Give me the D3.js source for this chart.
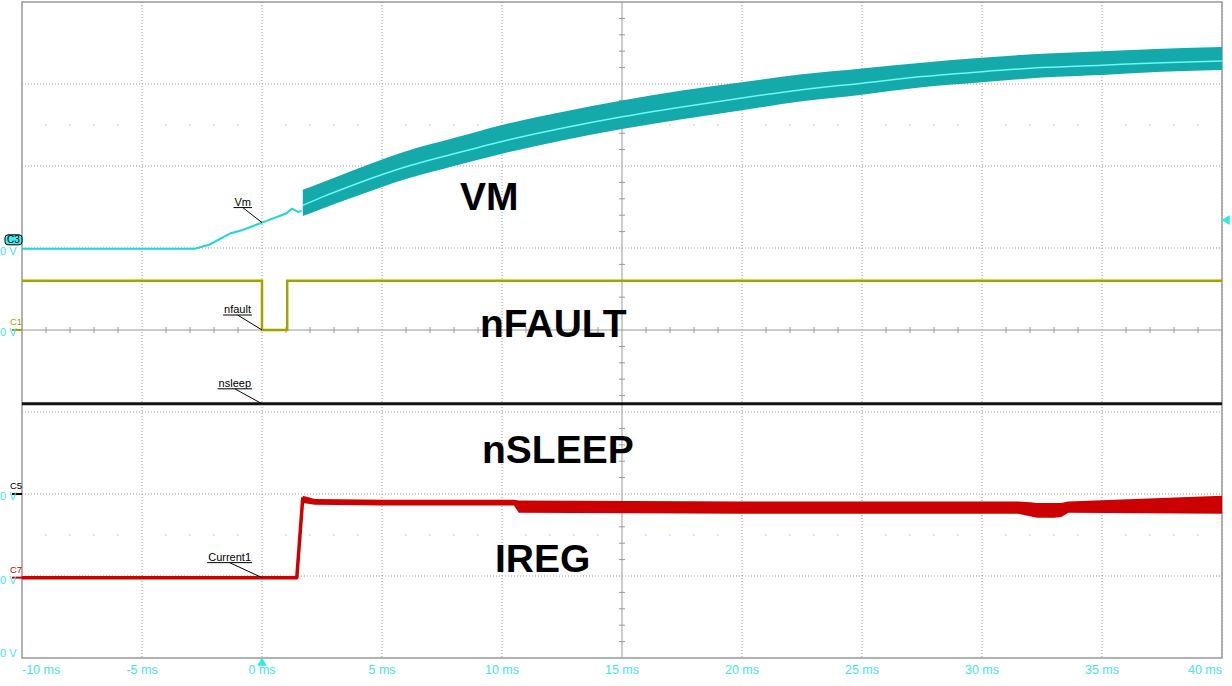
<!DOCTYPE html>
<html>
<head>
<meta charset="utf-8">
<script src="https://cdn.jsdelivr.net/npm/d3@7"></script>
<style>
body { margin: 0; background: #fff; }
text { font-family: "Liberation Sans", Arial, sans-serif; }
</style>
</head>
<body>
<script>
// time axis (ms)
var timeTicks = [-10, -5, 0, 5, 10, 15, 20, 25, 30, 35, 40];

// channel 0 V levels, in screen divisions from centre
var chanNames = ['C3', 'C1', 'C5', 'C7'];
var chanLevels = [0.99, 0, -2.0, -3.02];
var chanColors = ['#1fd6dc', '#a3a300', '#000000', '#cc0000'];

// VM (C3): slow part, values in divisions above its 0 V
var vmTime = [-10, -2.8, -2.2, -1.3, -0.8, 0, 1.0, 1.25, 1.5, 1.65];
var vmVal = [0, 0, 0.05, 0.19, 0.23, 0.32, 0.43, 0.49, 0.45, 0.46];
// VM noisy band after nFAULT released
var vmBandTime = [1.7, 2.5, 4, 6, 8, 10, 12.5, 15, 17.5, 20, 22.5, 25, 27.5, 30, 32.5, 35, 37.5, 40];
var vmMid = [0.53, 0.63, 0.80, 1.00, 1.16, 1.31, 1.47, 1.61, 1.73, 1.84, 1.94, 2.02, 2.10, 2.16, 2.21, 2.24, 2.27, 2.29];
var vmHigh = [0.72, 0.81, 0.98, 1.19, 1.35, 1.51, 1.67, 1.81, 1.93, 2.03, 2.13, 2.20, 2.27, 2.33, 2.38, 2.41, 2.44, 2.46];
var vmLow = [0.40, 0.49, 0.65, 0.85, 1.01, 1.16, 1.32, 1.46, 1.58, 1.69, 1.80, 1.88, 1.97, 2.03, 2.09, 2.12, 2.16, 2.18];

// nFAULT (C1)
var nfaultTime = [-10, 0, 0, 1.05, 1.05, 40];
var nfaultVal = [0.6, 0.6, 0, 0, 0.6, 0.6];

// nSLEEP (C5)
var nsleepTime = [-10, 40];
var nsleepVal = [1.1, 1.1];

// IREG (C7)
var iregTime = [-10, 1.45, 1.7];
var iregVal = [0, 0, 0.98];
var iregBandTime = [1.7, 2.2, 5, 10.5, 10.7, 20, 31.5, 32, 32.3, 33.0, 33.3, 33.6, 40];
var iregHigh = [1.00, 0.96, 0.95, 0.95, 0.94, 0.93, 0.93, 0.92, 0.91, 0.91, 0.91, 0.93, 1.00];
var iregLow = [0.91, 0.89, 0.88, 0.88, 0.79, 0.78, 0.78, 0.75, 0.73, 0.73, 0.74, 0.79, 0.78];

var width = 1232,
	height = 686;

var svg = d3.select('body')
	.append('svg')
	.attr('width', width)
	.attr('height', height);

var x = d3.scaleLinear().domain([-10, 40]).range([22, 1222]);
var y = d3.scaleLinear().domain([-4, 4]).range([658, 2]);

var grid = svg.append('g').attr('class', 'grid');

// dotted division lines
d3.range(-5, 45, 5).forEach(function(t) {
	if (t === 15) return;
	grid.append('line')
		.attr('x1', x(t)).attr('x2', x(t))
		.attr('y1', y(4)).attr('y2', y(-4))
		.attr('stroke', '#999').attr('stroke-dasharray', '1,2');
});
d3.range(-3, 4).forEach(function(d) {
	if (d === 0) return;
	grid.append('line')
		.attr('x1', x(-10)).attr('x2', x(40))
		.attr('y1', y(d)).attr('y2', y(d))
		.attr('stroke', '#999').attr('stroke-dasharray', '1,2');
});

// minor dots on some half-division rows
[2.5, -2.5].forEach(function(d) {
	d3.range(-10, 40, 1).forEach(function(t) {
		if (t % 5 === 0) return;
		grid.append('rect')
			.attr('x', x(t) - 0.5).attr('y', y(d) - 0.5)
			.attr('width', 1).attr('height', 1)
			.attr('fill', '#999');
	});
});

// solid centre axes with minor ticks
grid.append('line')
	.attr('x1', x(-10)).attr('x2', x(40))
	.attr('y1', y(0)).attr('y2', y(0))
	.attr('stroke', '#999');
grid.append('line')
	.attr('x1', x(15)).attr('x2', x(15))
	.attr('y1', y(4)).attr('y2', y(-4))
	.attr('stroke', '#999');
d3.range(-10, 40, 1).forEach(function(t) {
	if (t % 5 === 0) return;
	grid.append('line')
		.attr('x1', x(t)).attr('x2', x(t))
		.attr('y1', y(0) - 3).attr('y2', y(0) + 3)
		.attr('stroke', '#999');
});
d3.range(-4, 4.01, 0.2).forEach(function(d) {
	if (Math.abs(d - Math.round(d)) < 0.01) return;
	grid.append('line')
		.attr('x1', x(15) - 3).attr('x2', x(15) + 3)
		.attr('y1', y(d)).attr('y2', y(d))
		.attr('stroke', '#999');
});

// frame
svg.append('rect')
	.attr('x', x(-10)).attr('y', y(4))
	.attr('width', x(40) - x(-10)).attr('height', y(-4) - y(4))
	.attr('fill', 'none').attr('stroke', '#999').attr('stroke-width', 1.5);

// time labels
svg.append('g').selectAll('text')
	.data(timeTicks)
	.enter().append('text')
	.attr('x', function(d) { return x(d); })
	.attr('y', 674)
	.attr('text-anchor', function(d, i) {
		return i === 0 ? 'start' : (i === timeTicks.length - 1 ? 'end' : 'middle');
	})
	.attr('font-size', 12.5)
	.attr('fill', '#45e4ea')
	.text(function(d) { return d + ' ms'; });

// helpers
function linePts(times, vals, lvl) {
	return times.map(function(t, i) { return [x(t), y(vals[i] + lvl)]; });
}

var traces = svg.append('g').attr('class', 'traces');

// VM
traces.append('path')
	.attr('d', d3.line()(linePts(vmTime, vmVal, chanLevels[0])))
	.attr('fill', 'none').attr('stroke', chanColors[0]).attr('stroke-width', 2);
traces.append('path')
	.datum(vmBandTime)
	.attr('d', d3.area()
		.curve(d3.curveMonotoneX)
		.x(function(d) { return x(d); })
		.y0(function(d, i) { return y(vmLow[i] + chanLevels[0]); })
		.y1(function(d, i) { return y(vmHigh[i] + chanLevels[0]); }))
	.attr('fill', '#14a9aa');
traces.append('path')
	.attr('d', d3.line().curve(d3.curveMonotoneX)(linePts(vmBandTime, vmMid, chanLevels[0])))
	.attr('fill', 'none').attr('stroke', '#6ef7f7').attr('stroke-width', 1.5);

// nFAULT
traces.append('path')
	.attr('d', d3.line()(linePts(nfaultTime, nfaultVal, chanLevels[1])))
	.attr('fill', 'none').attr('stroke', chanColors[1]).attr('stroke-width', 2.5);

// nSLEEP
traces.append('path')
	.attr('d', d3.line()(linePts(nsleepTime, nsleepVal, chanLevels[2])))
	.attr('fill', 'none').attr('stroke', '#111').attr('stroke-width', 3);

// IREG
traces.append('path')
	.attr('d', d3.line()(linePts(iregTime, iregVal, chanLevels[3])))
	.attr('fill', 'none').attr('stroke', chanColors[3]).attr('stroke-width', 3.5)
	.attr('stroke-linejoin', 'round');
traces.append('path')
	.datum(iregBandTime)
	.attr('d', d3.area()
		.x(function(d) { return x(d); })
		.y0(function(d, i) { return y(iregLow[i] + chanLevels[3]); })
		.y1(function(d, i) { return y(iregHigh[i] + chanLevels[3]); }))
	.attr('fill', chanColors[3]);

// trace name callouts, pointing at t = 0
var callNames = ['Vm', 'nfault', 'nsleep', 'Current1'];
var callVals = [vmVal[5] + chanLevels[0], chanLevels[1], nsleepVal[0] + chanLevels[2], chanLevels[3]];
var callouts = svg.append('g').attr('class', 'callouts');
callNames.forEach(function(name, i) {
	var tx = x(0), ty = y(callVals[i]);
	var t = callouts.append('text')
		.attr('x', tx - 11).attr('y', ty - 17)
		.attr('text-anchor', 'end')
		.attr('font-size', 11)
		.text(name);
	var w = t.node().getComputedTextLength();
	callouts.append('line')
		.attr('x1', tx - 12 - w).attr('x2', tx - 10)
		.attr('y1', ty - 15).attr('y2', ty - 15)
		.attr('stroke', '#000');
	callouts.append('line')
		.attr('x1', tx - 11 - w / 2).attr('x2', tx)
		.attr('y1', ty - 15).attr('y2', ty)
		.attr('stroke', '#000');
});

// big labels
var bigNames = ['VM', 'nFAULT', 'nSLEEP', 'IREG'];
var bigX = [460, 480, 482, 495];
var bigY = [210, 337, 463, 572];
svg.append('g').selectAll('text')
	.data(bigNames)
	.enter().append('text')
	.attr('x', function(d, i) { return bigX[i]; })
	.attr('y', function(d, i) { return bigY[i]; })
	.attr('font-size', 39)
	.attr('font-weight', 'bold')
	.text(function(d) { return d; });

// channel markers on the left
var marks = svg.append('g').attr('class', 'marks');
chanNames.forEach(function(name, i) {
	var ly = y(chanLevels[i]);
	if (i === 0) {
		marks.append('rect')
			.attr('x', 5).attr('y', ly - 14)
			.attr('width', 17).attr('height', 10).attr('rx', 3)
			.attr('fill', '#3ff0f0').attr('stroke', '#000');
		marks.append('text')
			.attr('x', 13.5).attr('y', ly - 5.5)
			.attr('text-anchor', 'middle')
			.attr('font-size', 10).text(name);
	} else {
		marks.append('text')
			.attr('x', 10).attr('y', ly - 5)
			.attr('font-size', 9.5)
			.attr('fill', chanColors[i]).text(name);
		marks.append('line')
			.attr('x1', 12).attr('x2', 22)
			.attr('y1', ly).attr('y2', ly)
			.attr('stroke', chanColors[i]).attr('stroke-width', 2);
	}
	marks.append('text')
		.attr('x', 0).attr('y', ly + 6)
		.attr('font-size', 11).attr('fill', '#45e4ea')
		.text('0 V');
});
marks.append('text')
	.attr('x', 0).attr('y', y(-3.93) + 5)
	.attr('font-size', 11).attr('fill', '#45e4ea')
	.text('0 V');

// trigger markers
svg.append('path')
	.attr('d', d3.symbol().type(d3.symbolTriangle).size(40)())
	.attr('transform', 'translate(' + x(0) + ',663)')
	.attr('fill', '#2ee8ee');
svg.append('path')
	.attr('d', d3.symbol().type(d3.symbolTriangle).size(40)())
	.attr('transform', 'translate(1227,' + y(1.34) + ') rotate(-90)')
	.attr('fill', '#2ee8ee');
</script>
</body>
</html>
